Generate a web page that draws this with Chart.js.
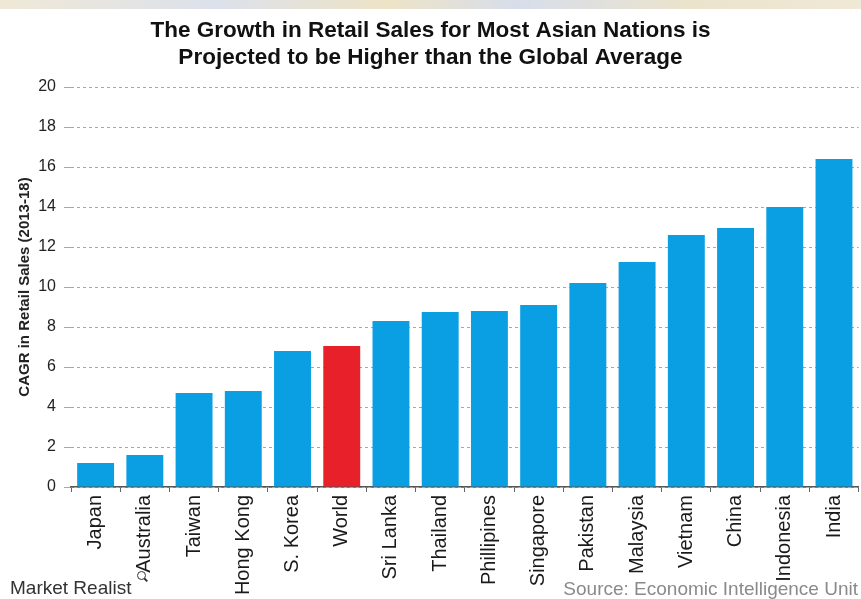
<!DOCTYPE html>
<html>
<head>
<meta charset="utf-8">
<script src="https://cdn.jsdelivr.net/npm/chart.js"></script>
<style>
  html, body { margin: 0; padding: 0; background: #fff; }
  #wrap { position: relative; width: 861px; height: 599px; overflow: hidden; }
  #band { position: absolute; left: 0; top: 0; width: 861px; height: 9px;
          background: linear-gradient(to right, #ece3cc, #d3d9e6 25%, #e9dcb8 45%, #cdd5e6 60%, #e6dcbf 80%, #ece3cc); opacity: .8; }
  canvas { position: absolute; left: 0; top: 0; }
  .foot { position: absolute; font-family: "Liberation Sans", Arial, sans-serif; white-space: nowrap; }
  #brand { left: 10px; top: 577px; font-size: 19px; color: #333; }
  #lens { position: absolute; left: 137px; top: 571px; width: 7px; height: 7px; border: 1.5px solid #333; border-radius: 50%; }
  #lens::after { content: ''; position: absolute; left: 6px; top: 7px; width: 4px; height: 1.5px; background: #333; transform: rotate(45deg); }
  #source { right: 3px; top: 578px; font-size: 19px; color: #8a8a8a; }
</style>
</head>
<body>
<div id="wrap">
  <div id="band"></div>
  <canvas id="chart" width="861" height="599"></canvas>
  <div class="foot" id="brand">Market Realist</div>
  <div id="lens"></div>
  <div class="foot" id="source">Source: Economic Intelligence Unit</div>
</div>
<script>
// chart values
const countries = ['Japan', 'Australia', 'Taiwan', 'Hong Kong', 'S. Korea', 'World', 'Sri Lanka', 'Thailand',
                   'Phillipines', 'Singapore', 'Pakistan', 'Malaysia', 'Vietnam', 'China', 'Indonesia', 'India'];
const cagr = [1.2, 1.6, 4.7, 4.8, 6.8, 7.05, 8.3, 8.75, 8.8, 9.1, 10.2, 11.25, 12.6, 12.95, 14.0, 16.4];
const yTicks = [0, 2, 4, 6, 8, 10, 12, 14, 16, 18, 20];
const titleLines = ['The Growth in Retail Sales for Most Asian Nations is', 'Projected to be Higher than the Global Average'];

const BLUE = '#0a9fe2', RED = '#e8202a';
const FONT = '"Liberation Sans", Arial, sans-serif';

new Chart(document.getElementById('chart').getContext('2d'), {
    type: 'bar',
    data: {
        labels: countries,
        datasets: [{
            data: cagr,
            backgroundColor: countries.map(c => c === 'World' ? RED : BLUE),
            barPercentage: 0.75,
            categoryPercentage: 1
        }]
    },
    options: {
        responsive: false,
        animation: false,
        layout: { padding: 0 },
        plugins: {
            legend: { display: false },
            tooltip: { enabled: false },
            title: {
                display: true, text: titleLines, color: '#111',
                font: { family: FONT, size: 22.5, weight: 'bold', lineHeight: 1.2 },
                padding: { top: 17, bottom: 16 }
            }
        },
        scales: {
            x: {
                offset: true,
                grid: { display: true, drawOnChartArea: false, drawTicks: true, tickLength: 5, color: '#666', offset: true },
                border: { display: true, color: '#555', width: 1.5 },
                ticks: { color: '#1a1a1a', font: { family: FONT, size: 20 }, minRotation: 90, maxRotation: 90, padding: 3, autoSkip: false },
                afterFit: s => { s.height = 112; }
            },
            y: {
                min: 0, max: 20,
                afterBuildTicks: s => { s.ticks = yTicks.map(v => ({ value: v })); },
                grid: { color: '#a8a8a8', tickLength: 7, drawTicks: true },
                border: { display: false, dash: [3, 3] },
                ticks: { color: '#222', font: { family: FONT, size: 16 }, padding: 8 },
                title: {
                    display: true, text: 'CAGR in Retail Sales (2013-18)', color: '#222',
                    font: { family: FONT, size: 15, weight: 'bold', lineHeight: 1.2 },
                    padding: { top: 16, bottom: 0 }
                },
                afterFit: s => { s.width = 71; }
            }
        }
    }
});
</script>
</body>
</html>
